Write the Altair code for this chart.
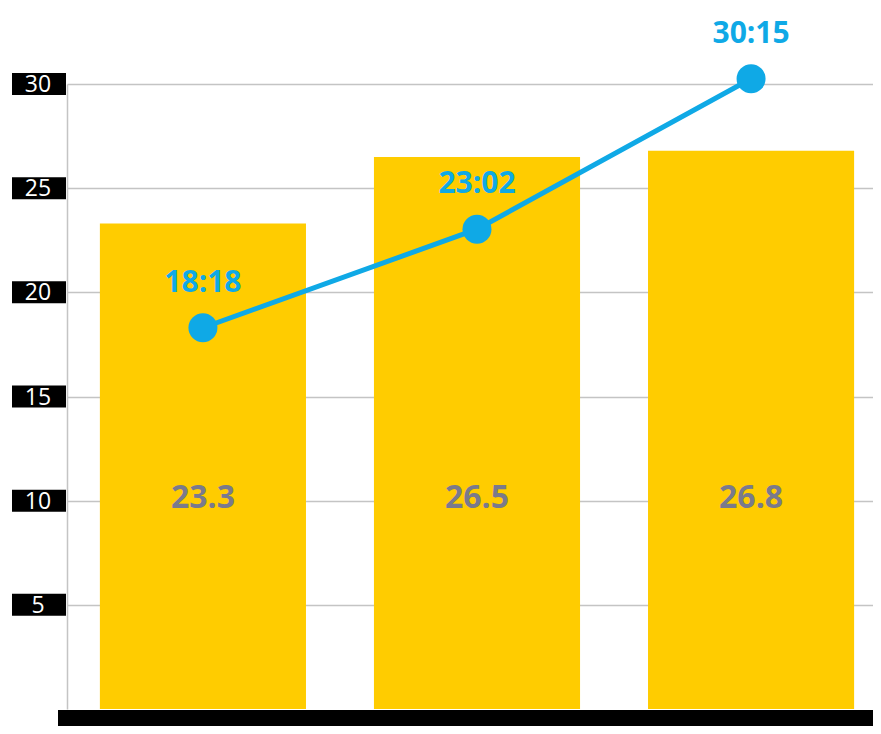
import altair as alt
import pandas as pd

categories = ["A", "B", "C"]
bar_values = [23.3, 26.5, 26.8]
bar_labels = ["23.3", "26.5", "26.8"]
line_values = [18.3, 23.03, 30.25]
line_labels = ["18:18", "23:02", "30:15"]
y_ticks = [5, 10, 15, 20, 25, 30]

W, H = 806, 625
FONT = "Open Sans"
YELLOW = "#FFCC00"
BLUE = "#0FA9E6"
GRAY_TXT = "#7A7A8C"

df = pd.DataFrame({
    "cat": categories,
    "bar": bar_values,
    "bar_label": bar_labels,
    "line": line_values,
    "line_label": line_labels,
})
ticks_df = pd.DataFrame({"v": y_ticks, "t": [str(t) for t in y_ticks]})

xs = alt.Scale(domain=categories, range=[0, 820], paddingInner=0.248, paddingOuter=0.12)
ys = alt.Scale(domain=[0, 30], nice=False)

x = alt.X("cat:N", scale=xs, axis=None)

bars = alt.Chart(df).mark_bar(color=YELLOW).encode(
    x=x,
    y=alt.Y("bar:Q", scale=ys, axis=alt.Axis(
        values=y_ticks, labels=False, ticks=False, title=None,
        grid=True, gridColor="#c4c4c4", gridWidth=1.5,
        domain=True, domainColor="#c4c4c4", domainWidth=1.5)),
)

bar_text = alt.Chart(df).mark_text(
    font=FONT, fontWeight="bold", fontSize=32, color=GRAY_TXT,
    baseline="middle", dy=-3,
).encode(x=x, y=alt.datum(10), text="bar_label:N")

line = alt.Chart(df).mark_line(color=BLUE, strokeWidth=5).encode(
    x=x, y=alt.Y("line:Q", scale=ys))
points = alt.Chart(df).mark_point(
    filled=True, opacity=1, color=BLUE, size=840, shape="circle").encode(
    x=x, y=alt.Y("line:Q", scale=ys))
line_text = alt.Chart(df).mark_text(
    font=FONT, fontWeight="bold", fontSize=30, color=BLUE,
    baseline="middle", dy=-45,
).encode(x=x, y=alt.Y("line:Q", scale=ys), text="line_label:N")

tick_boxes = alt.Chart(ticks_df).mark_tick(
    orient="horizontal", size=54, thickness=22, color="black", opacity=1,
).encode(x=alt.value(-28), y=alt.Y("v:Q", scale=ys))
tick_text = alt.Chart(ticks_df).mark_text(
    font=FONT, fontSize=23, color="white", align="center", baseline="middle", dy=1,
).encode(x=alt.value(-29), y=alt.Y("v:Q", scale=ys), text="t:N")

base_bar = alt.Chart(ticks_df).mark_rect(color="black").encode(
    x=alt.value(-9), x2=alt.value(W), y=alt.value(H + 1), y2=alt.value(H + 17))

chart = alt.layer(
    bars, bar_text, line, points, line_text, tick_boxes, tick_text, base_bar
).properties(
    width=W, height=H,
    autosize=alt.AutoSizeParams(type="none"),
    padding={"left": 59, "top": 76, "right": 0, "bottom": 17},
).configure_view(stroke=None)

chart.save("out.html", embed_options={"renderer": "svg", "actions": False})
